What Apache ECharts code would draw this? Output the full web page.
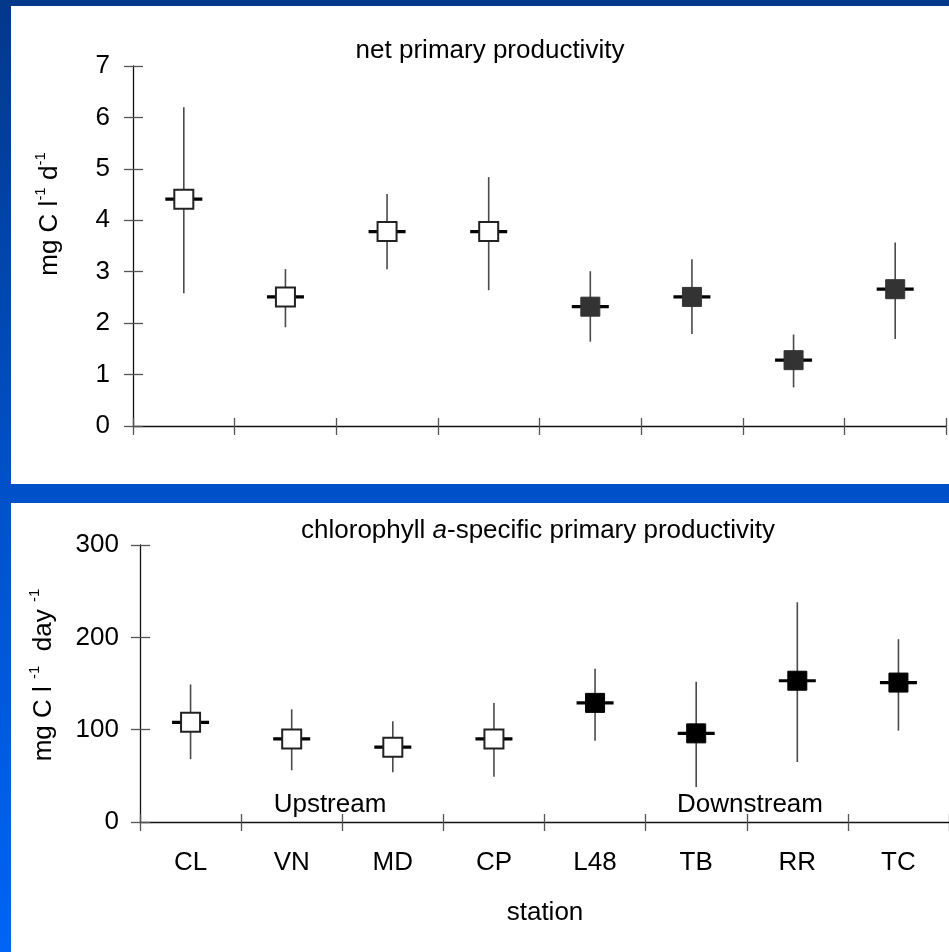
<!DOCTYPE html>
<html>
<head>
<meta charset="utf-8">
<script src="https://cdn.jsdelivr.net/npm/echarts@6/dist/echarts.min.js"></script>
<style>
html,body{margin:0;padding:0;background:#0050c8;}
#chart{width:949px;height:952px;}
</style>
</head>
<body>
<div id="chart"></div>
<script>
// ---- data ----
const stations = ['CL', 'VN', 'MD', 'CP', 'L48', 'TB', 'RR', 'TC'];
const isDownstream = [0, 0, 0, 0, 1, 1, 1, 1];
const nppMean = [4.41, 2.51, 3.78, 3.78, 2.32, 2.51, 1.28, 2.66];
const nppLow  = [2.58, 1.92, 3.05, 2.64, 1.64, 1.79, 0.75, 1.69];
const nppHigh = [6.20, 3.05, 4.51, 4.84, 3.01, 3.24, 1.78, 3.57];
const chlMean = [108, 90, 81, 90, 129, 96, 153, 151];
const chlLow  = [68, 56, 54, 49, 88, 38, 65, 99];
const chlHigh = [149, 122, 109, 129, 166, 152, 238, 198];
const nppTicks = [0, 1, 2, 3, 4, 5, 6, 7];
const chlTicks = [0, 100, 200, 300];

const FONT = 'Liberation Sans, Arial, sans-serif';

function build(mean, low, high) {
  return stations.map((s, i) => [i, mean[i], low[i], high[i], isDownstream[i]]);
}

function makeRender(filledColor) {
  return function (params, api) {
    const i = api.value(0);
    const c = api.coord([i, api.value(1)]);
    const lo = api.coord([i, api.value(2)]);
    const hi = api.coord([i, api.value(3)]);
    const filled = api.value(4) === 1;
    const half = 9.5, dash = 18.5;
    return {
      type: 'group',
      children: [
        { type: 'line', shape: { x1: c[0], y1: hi[1], x2: c[0], y2: lo[1] },
          style: { stroke: '#4a4a4a', lineWidth: 1.6 } },
        { type: 'line', shape: { x1: c[0] - dash, y1: c[1], x2: c[0] + dash, y2: c[1] },
          style: { stroke: '#000', lineWidth: 3.2 } },
        { type: 'rect', shape: { x: c[0] - half, y: c[1] - half, width: half * 2, height: half * 2 },
          style: { fill: filled ? filledColor : '#fff', stroke: filled ? filledColor : '#222', lineWidth: filled ? 1 : 2 } }
      ]
    };
  };
}

const axisCommon = {
  axisLine: { show: true, lineStyle: { color: '#111', width: 1.3 } },
  axisTick: { show: true, length: 9, lineStyle: { color: '#555', width: 1.3 } },
  splitLine: { show: false }
};

function xAxes(grid, showLabels) {
  return [
    Object.assign({}, axisCommon, {
      gridIndex: grid, type: 'category', data: stations, position: 'bottom',
      axisLabel: showLabels ? { show: true, color: '#000', fontFamily: FONT, fontSize: 26, margin: 28, lineHeight: 26 } : { show: false }
    }),
    {
      gridIndex: grid, type: 'category', data: stations, position: 'bottom',
      axisLine: { show: false },
      axisTick: { show: true, inside: true, length: 8, lineStyle: { color: '#555', width: 1.3 } },
      axisLabel: { show: false }, splitLine: { show: false }
    }
  ];
}

function yAxes(grid, max, interval, margin) {
  return [
    Object.assign({}, axisCommon, {
      gridIndex: grid, type: 'value', min: 0, max: max, interval: interval, position: 'left',
      axisLabel: { show: true, color: '#000', fontFamily: FONT, fontSize: 26, margin: margin }
    }),
    {
      gridIndex: grid, type: 'value', min: 0, max: max, interval: interval, position: 'left',
      axisLine: { show: false },
      axisTick: { show: true, inside: true, length: 10, lineStyle: { color: '#555', width: 1.3 } },
      axisLabel: { show: false }, splitLine: { show: false }
    }
  ];
}

const chart = echarts.init(document.getElementById('chart'), null, { renderer: 'canvas' });

const supRich = {
  m: { fontSize: 26, fontFamily: FONT, color: '#000', verticalAlign: 'bottom', lineHeight: 30 },
  s: { fontSize: 15, fontFamily: FONT, color: '#000', verticalAlign: 'top', lineHeight: 30 }
};

chart.setOption({
  backgroundColor: {
    type: 'linear', x: 0, y: 0, x2: 0, y2: 1,
    colorStops: [
      { offset: 0, color: '#03388a' },
      { offset: 0.5, color: '#0050c8' },
      { offset: 1, color: '#0064f6' }
    ]
  },
  animation: false,
  graphic: [
    { type: 'rect', z: -100, shape: { x: 11, y: 6, width: 938, height: 478 }, style: { fill: '#fff' } },
    { type: 'rect', z: -100, shape: { x: 11, y: 503, width: 938, height: 449 }, style: { fill: '#fff' } },
    { type: 'text', x: 490, y: 51, style: { text: 'net primary productivity', fontFamily: FONT, fontSize: 26, fill: '#000', align: 'center', verticalAlign: 'middle' } },
    { type: 'text', x: 538, y: 531, style: {
        text: '{n|chlorophyll }{i|a}{n|-specific primary productivity}',
        align: 'center', verticalAlign: 'middle',
        rich: {
          n: { fontFamily: FONT, fontSize: 26, fill: '#000' },
          i: { fontFamily: FONT, fontSize: 26, fontStyle: 'italic', fill: '#000' }
        } } },
    { type: 'text', x: 48, y: 214, rotation: Math.PI / 2, style: {
        text: '{m|mg C l}{s|-1}{m| d}{s|-1}', align: 'center', verticalAlign: 'middle', rich: supRich } },
    { type: 'text', x: 42, y: 675, rotation: Math.PI / 2, style: {
        text: '{m|mg C l }{s|-1}{m|  day }{s|-1}', align: 'center', verticalAlign: 'middle', rich: supRich } },
    { type: 'text', x: 330, y: 805, style: { text: 'Upstream', fontFamily: FONT, fontSize: 26, fill: '#000', align: 'center', verticalAlign: 'middle' } },
    { type: 'text', x: 750, y: 805, style: { text: 'Downstream', fontFamily: FONT, fontSize: 26, fill: '#000', align: 'center', verticalAlign: 'middle' } },
    { type: 'text', x: 545, y: 913, style: { text: 'station', fontFamily: FONT, fontSize: 26, fill: '#000', align: 'center', verticalAlign: 'middle' } }
  ],
  grid: [
    { left: 133, right: 3, top: 66, height: 360 },
    { left: 140, right: 0, top: 545, height: 277 }
  ],
  xAxis: xAxes(0, false).concat(xAxes(1, true)),
  yAxis: yAxes(0, 7, 1, 23).concat(yAxes(1, 300, 100, 21)),
  series: [
    { type: 'custom', xAxisIndex: 0, yAxisIndex: 0, data: build(nppMean, nppLow, nppHigh),
      renderItem: makeRender('#333'), z: 5 },
    { type: 'custom', xAxisIndex: 2, yAxisIndex: 2, data: build(chlMean, chlLow, chlHigh),
      renderItem: makeRender('#000'), z: 5 }
  ]
});
</script>
</body>
</html>
